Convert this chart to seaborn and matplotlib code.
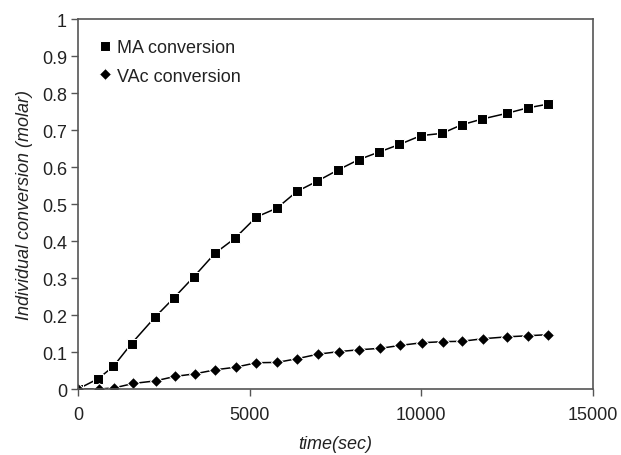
import matplotlib
matplotlib.use("Agg")
import matplotlib.pyplot as plt
import seaborn as sns
import pandas as pd

ma_time = [0, 590, 1030, 1560, 2240, 2800, 3380, 3990, 4565, 5195, 5795, 6375, 6970,
           7570, 8175, 8780, 9360, 9990, 10600, 11170, 11780, 12480, 13100, 13685]
ma_conv = [0.0, 0.028, 0.061, 0.123, 0.194, 0.247, 0.304, 0.367, 0.407, 0.465, 0.489, 0.534, 0.562,
           0.592, 0.620, 0.641, 0.661, 0.685, 0.691, 0.714, 0.730, 0.745, 0.760, 0.770]
vac_time = [0, 605, 1055, 1608, 2258, 2820, 3400, 4003, 4593, 5195, 5805, 6386, 6977,
            7587, 8170, 8808, 9390, 10010, 10620, 11180, 11802, 12490, 13110, 13700]
vac_conv = [0.0, 0.0, 0.003, 0.015, 0.022, 0.034, 0.041, 0.052, 0.059, 0.071, 0.072, 0.082, 0.094,
            0.101, 0.106, 0.110, 0.118, 0.125, 0.128, 0.129, 0.136, 0.141, 0.144, 0.147]

df = pd.concat([
    pd.DataFrame({"time": ma_time, "conv": ma_conv, "series": "MA conversion"}),
    pd.DataFrame({"time": vac_time, "conv": vac_conv, "series": "VAc conversion"}),
])

sns.set_style("ticks")
plt.rcParams['font.family'] = ['Liberation Sans', 'DejaVu Sans']

fig = plt.figure(figsize=(6.21, 4.56), dpi=100)
ax = fig.add_axes([0.1256, 0.1447, 0.8294, 0.8113])

sns.lineplot(data=df, x="time", y="conv", hue="series", style="series",
             markers={"MA conversion": "s", "VAc conversion": "D"},
             dashes=False, palette={"MA conversion": "black", "VAc conversion": "black"},
             markersize=7, linewidth=1.1, ax=ax, sort=False, estimator=None)
for line in ax.lines:
    if line.get_marker() == "D":
        line.set_markersize(6.5)

ax.set_xlim(0, 15000)
ax.set_ylim(0, 1)
ax.set_xticks([0, 5000, 10000, 15000])
ax.set_yticks([0, 0.1, 0.2, 0.3, 0.4, 0.5, 0.6, 0.7, 0.8, 0.9, 1])
ax.set_yticklabels(["0", "0.1", "0.2", "0.3", "0.4", "0.5", "0.6", "0.7", "0.8", "0.9", "1"])
ax.tick_params(labelsize=13, direction="out", length=5, color="#555555", width=1,
               labelcolor="#222222")
ax.tick_params(axis="x", pad=7)
ax.tick_params(axis="y", pad=3)
for s in ax.spines.values():
    s.set_visible(True)
    s.set_color("#555555")
    s.set_linewidth(1.2)

ax.set_xlabel("time(sec)", fontsize=13, style="italic", labelpad=9, color="#222222")
ax.set_ylabel("Individual conversion (molar)", fontsize=13, style="italic", labelpad=6,
              color="#222222")

leg = ax.legend(loc="upper left", frameon=False, fontsize=13, handlelength=0.6,
                handletextpad=0.4, labelspacing=0.65, bbox_to_anchor=(0.01, 0.99))
for t in leg.get_texts():
    t.set_color("#222222")
for h in leg.legend_handles:
    h.set_linestyle("none")

fig.savefig("out.png", dpi=100)
